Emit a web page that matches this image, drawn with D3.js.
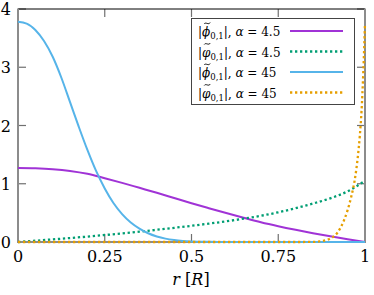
<!DOCTYPE html>
<html><head><meta charset="utf-8">
<script src="https://cdn.jsdelivr.net/npm/d3@7"></script>
<style>body{margin:0;background:#fff}</style>
</head><body><svg id="c" width="374" height="295"></svg>
<script>
// ---- data ----
const xTicks = [0, 0.25, 0.5, 0.75, 1];
const xTickLabels = ["0", "0.25", "0.5", "0.75", "1"];
const yTicks = [0, 1, 2, 3, 4];
const yTickLabels = ["0", "1", "2", "3", "4"];

const rCoarse = [0,0.05,0.1,0.15,0.2,0.25,0.3,0.35,0.4,0.45,0.5,0.55,0.6,0.65,0.7,0.75,0.8,0.85,0.9,0.95,1];
const phiBarA45 = [1.27,1.265,1.25,1.22,1.17,1.095,1.015,0.93,0.845,0.755,0.665,0.58,0.497,0.417,0.34,0.272,0.21,0.152,0.098,0.047,0];
const phiTilA45 = [0,0.022,0.045,0.068,0.093,0.12,0.148,0.178,0.21,0.243,0.278,0.315,0.355,0.40,0.45,0.51,0.58,0.66,0.75,0.87,1.05];

const rBlue = [0,0.025,0.05,0.075,0.1,0.125,0.15,0.175,0.2,0.225,0.25,0.275,0.3,0.325,0.35,0.375,0.4,0.425,0.45,0.475,0.5,0.55,0.6,0.7,0.8,0.9,1];
const phiBarA450 = [3.78,3.75,3.64,3.45,3.18,2.82,2.40,1.98,1.58,1.22,0.92,0.67,0.48,0.335,0.23,0.15,0.095,0.058,0.034,0.019,0.01,0.003,0,0,0,0,0];

const rOrange = [0,0.2,0.4,0.6,0.8,0.85,0.87,0.89,0.9,0.91,0.92,0.93,0.94,0.95,0.96,0.97,0.975,0.98,0.985,0.99,0.995,1];
const phiTilA450 = [0,0,0,0,0,0.002,0.01,0.035,0.06,0.095,0.155,0.25,0.38,0.55,0.77,1.05,1.25,1.5,1.82,2.25,2.9,3.75];

const seriesNames = ["phiBar45","phiTil45","phiBar450","phiTil450"];
const legendSymbols = ["\u03D5", "\u03C6", "\u03D5", "\u03C6"];
const legendAlphas = ["4.5", "4.5", "45", "45"];
const seriesColors = ["#a033d6", "#009e73", "#56b4e9", "#e69f00"];
const seriesDashed = [false, true, false, true];
const xLabelParts = ["r", " [", "R", "]"];

// ---- drawing ----
const FONT = "DejaVu Serif";
const svg = d3.select("#c");
const X0 = 18, X1 = 365, Y0 = 242, Y1 = 9;
const x = d3.scaleLinear().domain([0, 1]).range([X0, X1]);
const y = d3.scaleLinear().domain([0, 4]).range([Y0, Y1]);
const axisGray = "#8c8c8c", tickGray = "#707070";

// ticks (inward, mirrored)
const TL = 8;
const tg = svg.append("g");
xTicks.forEach(t => {
  tg.append("line").attr("x1", x(t)).attr("x2", x(t)).attr("y1", Y0).attr("y2", Y0 - TL)
    .attr("stroke", tickGray).attr("stroke-width", 1.2);
  tg.append("line").attr("x1", x(t)).attr("x2", x(t)).attr("y1", Y1).attr("y2", Y1 + TL)
    .attr("stroke", tickGray).attr("stroke-width", 1.2);
});
yTicks.forEach(t => {
  tg.append("line").attr("x1", X0).attr("x2", X0 + TL).attr("y1", y(t)).attr("y2", y(t))
    .attr("stroke", tickGray).attr("stroke-width", 1.2);
  tg.append("line").attr("x1", X1).attr("x2", X1 - TL).attr("y1", y(t)).attr("y2", y(t))
    .attr("stroke", tickGray).attr("stroke-width", 1.2);
});

// frame
svg.append("line").attr("x1", X0).attr("x2", X1).attr("y1", Y1).attr("y2", Y1)
  .attr("stroke", "#000").attr("stroke-width", 1);
svg.append("line").attr("x1", X0).attr("x2", X0).attr("y1", Y1 - 0.5).attr("y2", Y0 + 1)
  .attr("stroke", axisGray).attr("stroke-width", 2);
svg.append("line").attr("x1", X1).attr("x2", X1).attr("y1", Y1 - 0.5).attr("y2", Y0 + 1)
  .attr("stroke", axisGray).attr("stroke-width", 2);
svg.append("line").attr("x1", X0 - 1).attr("x2", X1 + 1).attr("y1", Y0).attr("y2", Y0)
  .attr("stroke", axisGray).attr("stroke-width", 2);

// tick labels
xTicks.forEach((t, i) => {
  svg.append("text").attr("x", x(t)).attr("y", 262).attr("text-anchor", "middle")
    .attr("font-family", FONT).attr("font-size", 16).attr("fill", "#000").text(xTickLabels[i]);
});
yTicks.forEach((t, i) => {
  svg.append("text").attr("x", 11).attr("y", y(t) + 6).attr("text-anchor", "end")
    .attr("font-family", FONT).attr("font-size", 16).attr("fill", "#000").text(yTickLabels[i]);
});

// axis label
const xl = svg.append("text").attr("x", 191).attr("y", 285).attr("text-anchor", "middle")
  .attr("font-family", FONT).attr("font-size", 16).attr("fill", "#000");
xLabelParts.forEach((p, i) => {
  xl.append("tspan").attr("font-style", (i % 2 === 0) ? "italic" : "normal").text(p);
});

// series
const seriesX = [rCoarse, rCoarse, rBlue, rOrange];
const seriesY = [phiBarA45, phiTilA45, phiBarA450, phiTilA450];
const line = d3.line().x(d => x(d[0])).y(d => y(d[1])).curve(d3.curveMonotoneX);
seriesNames.forEach((n, i) => {
  const pts = seriesX[i].map((r, j) => [r, seriesY[i][j]]);
  svg.append("path").attr("d", line(pts)).attr("fill", "none")
    .attr("stroke", seriesColors[i]).attr("stroke-width", seriesDashed[i] ? 2.3 : 2)
    .attr("stroke-dasharray", seriesDashed[i] ? "2.3,2.7" : null);
});

// legend
const LX0 = 191, LY0 = 18, LX1 = 354, LY1 = 104;
svg.append("rect").attr("x", LX0 + 0.5).attr("y", LY0 + 0.5).attr("width", LX1 - LX0).attr("height", LY1 - LY0)
  .attr("fill", "#fff").attr("stroke", "#444").attr("stroke-width", 1);
const rowY = [31, 51.5, 72, 92.5];
seriesNames.forEach((n, i) => {
  const t = svg.append("text").attr("x", 198).attr("y", rowY[i] + 5)
    .attr("font-family", FONT).attr("font-size", 12).attr("fill", "#000");
  t.append("tspan").text("|");
  t.append("tspan").attr("font-style", "italic").text(legendSymbols[i]);
  t.append("tspan").attr("font-size", 8.5).attr("dy", 3).text("0,1");
  t.append("tspan").attr("dy", -3).text("|, ");
  t.append("tspan").attr("font-style", "italic").text("\u03B1");
  t.append("tspan").text(" = " + legendAlphas[i]);
  // tilde accent over the symbol (char index 1), drawn as a small path
  const node = t.node();
  const s = node.getStartPositionOfChar(1).x, e = node.getEndPositionOfChar(1).x;
  const cx = (s + e) / 2 + 1, cy = rowY[i] - 8;
  svg.append("path")
    .attr("d", `M${cx - 3},${cy + 1} C${cx - 1.5},${cy - 1.5} ${cx + 1.5},${cy + 2.5} ${cx + 3},${cy - 0.5}`)
    .attr("fill", "none").attr("stroke", "#000").attr("stroke-width", 0.9);
  svg.append("line").attr("x1", 290).attr("x2", 343).attr("y1", rowY[i]).attr("y2", rowY[i])
    .attr("stroke", seriesColors[i]).attr("stroke-width", seriesDashed[i] ? 2.3 : 2)
    .attr("stroke-dasharray", seriesDashed[i] ? "2.3,2.7" : null);
});
</script></body></html>
